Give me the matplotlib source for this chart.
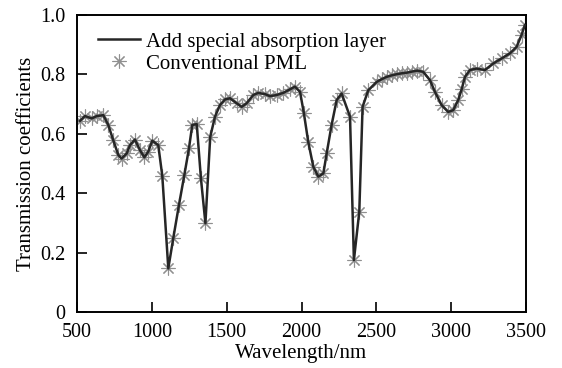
import matplotlib
matplotlib.use("Agg")
import matplotlib.pyplot as plt

wavelength = [520, 553, 598, 632, 676, 709, 742, 776, 798, 832, 854, 887, 921, 950, 976,
              1003, 1043, 1070, 1110, 1143, 1181, 1217, 1248, 1270, 1300, 1328, 1358, 1390,
              1422, 1455, 1489, 1522, 1567, 1600, 1633, 1678, 1711, 1756, 1789, 1834, 1878,
              1923, 1956, 1990, 2016, 2045, 2079, 2112, 2146, 2168, 2201, 2235, 2268, 2324,
              2350, 2386, 2408, 2446, 2502, 2535, 2569, 2602, 2636, 2670, 2702, 2740, 2773,
              2813, 2858, 2891, 2936, 2980, 3014, 3047, 3070, 3092, 3125, 3170, 3225, 3281,
              3337, 3392, 3437, 3470, 3492]
transmission = [0.644, 0.66, 0.652, 0.66, 0.663, 0.63, 0.579, 0.529, 0.517, 0.534, 0.562,
                0.581, 0.545, 0.521, 0.54, 0.577, 0.562, 0.458, 0.147, 0.248, 0.36, 0.461,
                0.551, 0.63, 0.633, 0.45, 0.299, 0.59, 0.658, 0.697, 0.716, 0.72, 0.703, 0.691,
                0.703, 0.731, 0.738, 0.734, 0.727, 0.731, 0.738, 0.75, 0.759, 0.742, 0.669,
                0.573, 0.489, 0.456, 0.467, 0.534, 0.63, 0.714, 0.736, 0.658, 0.175, 0.338,
                0.691, 0.747, 0.775, 0.784, 0.792, 0.797, 0.801, 0.804, 0.806, 0.81, 0.813,
                0.809, 0.781, 0.742, 0.697, 0.674, 0.68, 0.714, 0.75, 0.792, 0.815, 0.82,
                0.815, 0.837, 0.854, 0.871, 0.893, 0.933, 0.966]

plt.rcParams['font.family'] = ['Liberation Serif', 'DejaVu Serif']

fig = plt.figure(figsize=(5.62, 3.68), dpi=100)
ax = fig.add_axes([0.137, 0.152, 0.799, 0.807])

ax.plot(wavelength, transmission, color='#262626', lw=1.8, label='Add special absorption layer', zorder=3)
ax.plot(wavelength, transmission, ls='none', marker=(8, 2, 0), ms=10, mew=0.8,
        color='#909090', label='Conventional PML', zorder=2)

ax.set_xlim(500, 3500)
ax.set_ylim(0, 1.0)
ax.set_xticks([500, 1000, 1500, 2000, 2500, 3000, 3500])
ax.set_yticks([0, 0.2, 0.4, 0.6, 0.8, 1.0])
ax.set_yticklabels(['0', '0.2', '0.4', '0.6', '0.8', '1.0'])
ax.tick_params(direction='in', length=7, width=1.2, top=False, right=False,
               labelsize=14.5, colors='black')
ax.tick_params(axis='x', pad=8)
ax.tick_params(axis='y', pad=8.5)
for s in ax.spines.values():
    s.set_linewidth(1.4)

ax.set_xlabel('Wavelength/nm', fontsize=15, labelpad=1)
ax.set_ylabel('Transmission coefficients', fontsize=15, labelpad=3)

leg = ax.legend(loc='upper left', frameon=False, fontsize=15, handlelength=2.0,
                handletextpad=0.3, borderaxespad=0.2, labelspacing=0.12,
                bbox_to_anchor=(0.02, 0.985))

fig.savefig('out.png', dpi=100)
